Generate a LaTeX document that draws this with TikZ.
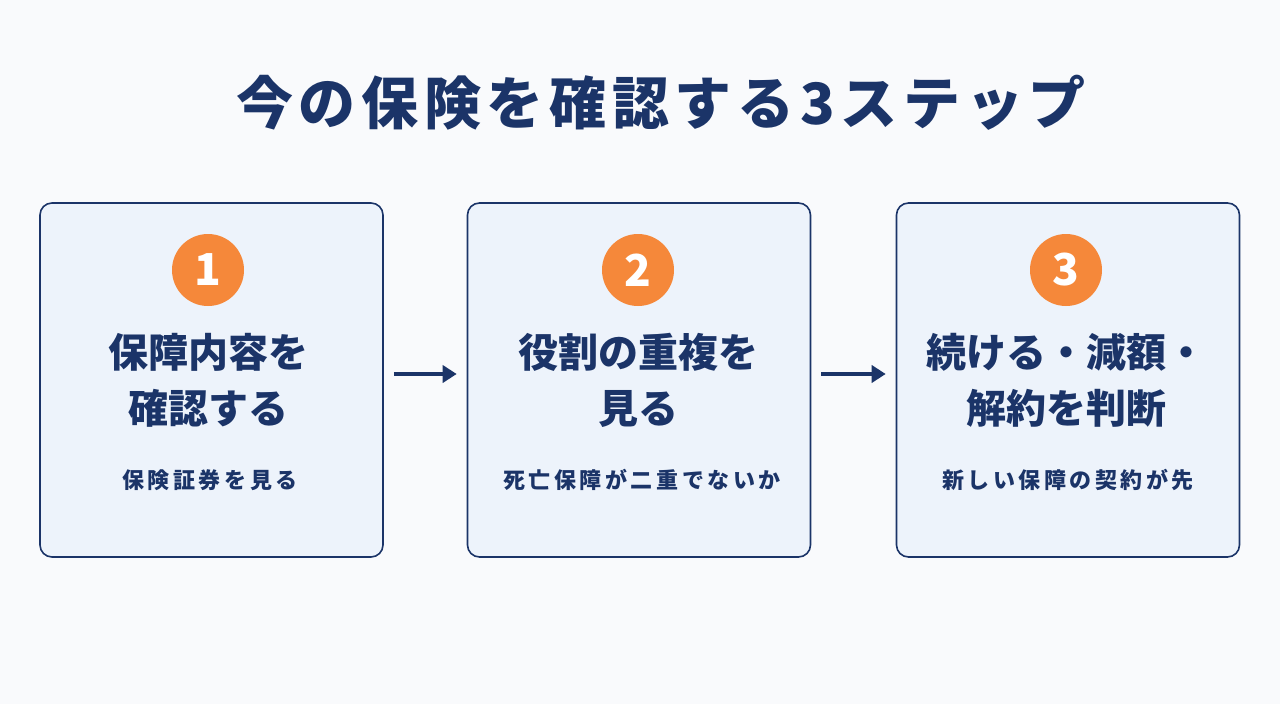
\documentclass[tikz,border=0pt]{standalone}
\usepackage{fontspec}
\newfontfamily\jpfont{Noto Sans CJK JP}
\usepackage{tikz}
\usetikzlibrary{arrows.meta,positioning,calc}
\definecolor{navy}{HTML}{1B3468}
\definecolor{boxfill}{HTML}{EDF3FB}
\definecolor{numorange}{HTML}{F5883A}
\definecolor{bgwhite}{HTML}{F9FAFC}

\begin{document}
\begin{tikzpicture}[x=1pt, y=-1pt,
  stepcard/.style={draw=navy, line width=1.6pt, fill=boxfill, rounded corners=12pt,
    minimum width=343pt, minimum height=354pt, inner sep=0pt},
  numdot/.style={circle, fill=numorange, minimum size=72pt, inner sep=0pt,
    text=white, font=\jpfont\bfseries\fontsize{44}{44}\selectfont},
  headline/.style={text=navy, align=center, font=\jpfont\bfseries\fontsize{40}{56}\selectfont},
  subline/.style={text=navy, font=\jpfont\bfseries\addfontfeatures{LetterSpace=16}\fontsize{22}{24}\selectfont},
  flow/.style={-{Triangle[length=14pt,width=17pt]}, line width=3.5pt, navy}
]
\fill[bgwhite] (0,0) rectangle (1280,704);
\useasboundingbox (0,0) rectangle (1280,704);

\node[text=navy, font=\jpfont\bfseries\addfontfeatures{LetterSpace=10}\fontsize{57}{57}\selectfont] (title) at (661,103) {今の保険を確認する3ステップ};

% step 1
\node[stepcard] (card1) at (211.5,380) {};
\node[numdot] (num1) at (208,270) {1};
\node[headline] (head1) at (208,380) {保障内容を\\確認する};
\node[subline] (sub1) at (210,480) {保険証券を見る};

% step 2
\node[stepcard] (card2) at (639,380) {};
\node[numdot] (num2) at (638,270) {2};
\node[headline] (head2) at (638,380) {役割の重複を\\見る};
\node[subline] (sub2) at (642,480) {死亡保障が二重でないか};

% step 3
\node[stepcard] (card3) at (1068,380) {};
\node[numdot] (num3) at (1066,270) {3};
\node[headline] (head3) at (1066,380) {続ける・減額・\\解約を判断};
\node[subline] (sub3) at (1068,480) {新しい保障の契約が先};

\coordinate (a1s) at ($(card1.east)+(10,-6)$);
\coordinate (a1e) at ($(card2.west)+(-10,-6)$);
\coordinate (a2s) at ($(card2.east)+(10,-6)$);
\coordinate (a2e) at ($(card3.west)+(-10,-6)$);
\draw[flow] (a1s) -- (a1e);
\draw[flow] (a2s) -- (a2e);
\end{tikzpicture}
\end{document}
